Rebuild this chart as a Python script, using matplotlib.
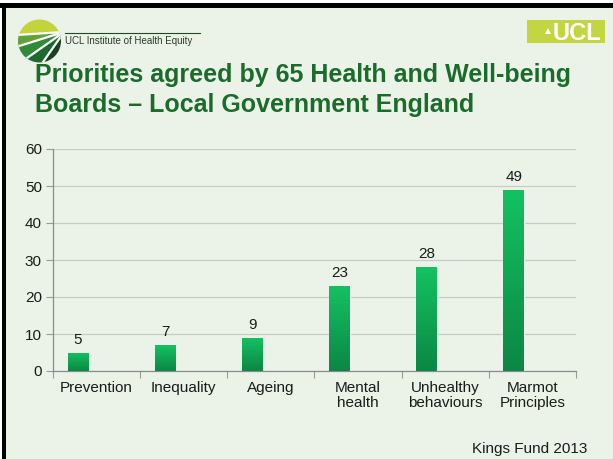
import numpy as np
import matplotlib
matplotlib.use("Agg")
import matplotlib.pyplot as plt
from matplotlib.patches import Rectangle, Circle, Polygon
from matplotlib.colors import LinearSegmentedColormap

plt.rcParams['font.family'] = ['Liberation Sans', 'DejaVu Sans']

categories = ["Prevention", "Inequality", "Ageing", "Mental\nhealth",
              "Unhealthy\nbehaviours", "Marmot\nPrinciples"]
values = [5, 7, 9, 23, 28, 49]
yticks = [0, 10, 20, 30, 40, 50, 60]

title_lines = ["Priorities agreed by 65 Health and Well-being",
               "Boards \u2013 Local Government England"]
source = "Kings Fund 2013"
institute = "UCL Institute of Health Equity"

BG = "#EBF3E9"
W, H = 613, 459

fig = plt.figure(figsize=(W / 100, H / 100), dpi=100)
fig.patch.set_facecolor(BG)

# --- slide decorations in pixel coordinates ---
deco = fig.add_axes([0, 0, 1, 1], zorder=0)
deco.set_xlim(0, W)
deco.set_ylim(H, 0)
deco.axis("off")
deco.set_facecolor("none")
deco.add_patch(Rectangle((0, 0), W, 3, color="white", lw=0))
deco.add_patch(Rectangle((0, 0), 2, H, color="white", lw=0))
deco.add_patch(Rectangle((0, 3), W, 5, color="black", lw=0))
deco.add_patch(Rectangle((2, 3), 4, H, color="black", lw=0))

# circular logo with a fan of green stripes
cx, cy, r = 39.5, 41, 21.5
clip = Circle((cx, cy), r, transform=deco.transData)
fan = (64, 32)
band_pts = [((0, 0), (0, 36)), ((0, 36), (0, 52)), ((0, 52), (10, 70)),
            ((10, 70), (34, 75)), ((34, 75), (90, 90))]
colors = ["#C3D33C", "#63A23A", "#2F8A3A", "#1D6A30", "#1C3F22"]
for i, (col, (p1, p2)) in enumerate(zip(colors, band_pts)):
    if i == 0:
        poly = Polygon([(0, 0), (90, 0), fan, p2], closed=True, color=col, lw=0)
    elif i == len(colors) - 1:
        poly = Polygon([fan, p1, (90, 90), (90, 0)], closed=True, color=col, lw=0)
    else:
        poly = Polygon([fan, p1, p2], closed=True, color=col, lw=0)
    deco.add_patch(poly)
    poly.set_clip_path(clip)
for end in [(0, 36), (0, 52), (10, 70), (34, 75)]:
    ln, = deco.plot([fan[0], end[0]], [fan[1], end[1]], color="white", lw=1.6)
    ln.set_clip_path(clip)

deco.plot([65, 200], [33, 33], color="#1E4A25", lw=0.8)
deco.text(65, 41.5, institute, fontsize=7, color="#2A3A2A", va="center", ha="left")

# UCL badge
badge = Rectangle((527, 20), 78, 23, color="#C3D540", lw=0)
deco.add_patch(badge)
ucl = deco.text(601, 45, "UCL", fontsize=17, fontweight="bold", color="white",
                ha="right", va="bottom")
ucl.set_clip_path(badge)
deco.add_patch(Polygon([(545, 34), (548, 28), (551, 34)], closed=True,
                       color="white", lw=0))

# title and source
for k, line in enumerate(title_lines):
    deco.text(35, 82 + 30 * k, line, fontsize=18, fontweight="bold",
              color="#1B6B2A", ha="left", va="baseline")
deco.text(587, 453, source, fontsize=11, color="#1a1a1a", ha="right", va="baseline")

# --- chart ---
left, right = 53 / W, 576 / W
bottom, top = 1 - 371 / H, 1 - 149 / H
ax = fig.add_axes([left, bottom, right - left, top - bottom], zorder=1)
ax.set_facecolor("none")

x = np.arange(len(categories))
offset, width = -0.215, 0.235
bars = ax.bar(x + offset, values, width=width, color="#10A552",
              edgecolor="#F4FAF2", linewidth=0.8, zorder=3)

cmap = LinearSegmentedColormap.from_list("bar", ["#0B8744", "#14C262"])
grad = np.linspace(0, 1, 256).reshape(-1, 1)
for b in bars:
    bx, by = b.get_x(), b.get_y()
    bw, bh = b.get_width(), b.get_height()
    im = ax.imshow(grad, cmap=cmap, origin="lower", aspect="auto",
                   extent=[bx, bx + bw, by, by + bh], zorder=3.5)
    im.set_clip_path(b)

for xi, v in zip(x, values):
    ax.text(xi + offset, v + 1.6, str(v), ha="center", va="bottom",
            fontsize=11, color="#1a1a1a", zorder=4)

ax.set_xlim(-0.5, len(categories) - 0.5)
ax.set_ylim(0, 60)
ax.set_yticks(yticks)
ax.set_yticklabels([str(t) for t in yticks], fontsize=11, color="#1a1a1a")
ax.set_xticks(x)
ax.set_xticklabels(categories, fontsize=11, color="#1a1a1a", linespacing=1.15)
ax.tick_params(axis="x", length=0, pad=7)
ax.set_xticks(np.arange(len(categories) + 1) - 0.5, minor=True)
ax.tick_params(axis="x", which="minor", length=5, color="#9a9a9a", width=0.8)
ax.tick_params(axis="y", length=5, color="#9a9a9a", width=0.8, pad=3)
ax.grid(axis="y", color="#C8CCC6", lw=0.9, zorder=0)
ax.set_axisbelow(True)
for s in ["top", "right"]:
    ax.spines[s].set_visible(False)
for s in ["left", "bottom"]:
    ax.spines[s].set_color("#8a8a8a")
    ax.spines[s].set_linewidth(0.9)

fig.savefig("out.png", dpi=100, facecolor=BG)
